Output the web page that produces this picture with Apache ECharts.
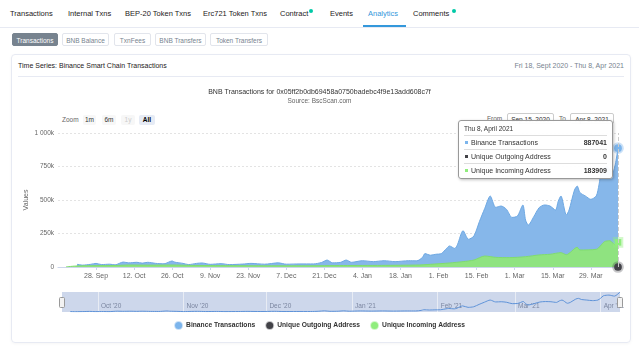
<!DOCTYPE html>
<html><head><meta charset="utf-8">
<script src="https://cdn.jsdelivr.net/npm/echarts@6/dist/echarts.min.js"></script>
<style>
body{margin:0;width:639px;height:350px;background:#fff;position:relative;overflow:hidden;font-family:"Liberation Sans",Arial,Helvetica,sans-serif;color:#1e2022}
.a{position:absolute;white-space:nowrap}
.tab{font-size:7.5px;top:9px;line-height:10px;color:#1e2022}
.btn{top:33px;height:13px;line-height:13px;font-size:6.5px;border:1px solid #e2e5ec;border-radius:2px;color:#77838f;text-align:center;box-sizing:border-box;background:#fff}
.dot{width:4px;height:4px;border-radius:2px;background:#00c9a7}
.zb{top:115px;height:10px;line-height:10px;font-size:6.5px;text-align:center;border-radius:2px;background:#f7f7f7;color:#333}
.inp{top:113px;height:11px;line-height:11px;font-size:6.5px;border:1px solid #ccc;border-radius:2px;color:#333;text-align:center;box-sizing:border-box}
#chart{position:absolute;left:0;top:0;width:639px;height:350px;z-index:5}
</style></head>
<body>
<div class="a tab" style="left:10px">Transactions</div>
<div class="a tab" style="left:68px">Internal Txns</div>
<div class="a tab" style="left:125px">BEP-20 Token Txns</div>
<div class="a tab" style="left:203px">Erc721 Token Txns</div>
<div class="a tab" style="left:280px">Contract</div>
<div class="a dot" style="left:309px;top:9px"></div>
<div class="a tab" style="left:330px">Events</div>
<div class="a tab" style="left:368px;color:#3498db">Analytics</div>
<div class="a tab" style="left:413px">Comments</div>
<div class="a dot" style="left:452px;top:9px"></div>
<div class="a" style="left:0;top:27px;width:639px;height:1px;background:#e7eaf3"></div>
<div class="a" style="left:363px;top:25px;width:43px;height:2px;background:#3498db"></div>

<div class="a btn" style="left:12px;width:46px;background:#77838f;color:#fff;border-color:#77838f">Transactions</div>
<div class="a btn" style="left:62px;width:47px">BNB Balance</div>
<div class="a btn" style="left:114px;width:37px">TxnFees</div>
<div class="a btn" style="left:155px;width:51px">BNB Transfers</div>
<div class="a btn" style="left:210px;width:58px">Token Transfers</div>

<div class="a" style="left:11px;top:54px;width:620px;height:289px;border:1px solid #e7eaf3;border-radius:4px;box-sizing:border-box;box-shadow:0 1px 3px rgba(0,0,0,0.04)"></div>
<div class="a" style="left:18px;top:61px;font-size:7px;line-height:9px;color:#1e2022">Time Series: Binance Smart Chain Transactions</div>
<div class="a" style="right:15px;top:61px;font-size:7px;line-height:9px;color:#77838f">Fri 18, Sept 2020 - Thu 8, Apr 2021</div>
<div class="a" style="left:18px;top:76px;width:606px;height:1px;background:#e7eaf3"></div>

<div class="a" style="left:62px;top:115px;font-size:6.5px;line-height:10px;color:#666">Zoom</div>
<div class="a zb" style="left:83px;width:13px">1m</div>
<div class="a zb" style="left:102px;width:14px">6m</div>
<div class="a zb" style="left:121px;width:14px;color:#ccc">1y</div>
<div class="a zb" style="left:139px;width:16px;background:#e6ebf5;color:#000;font-weight:bold">All</div>
<div class="a" style="left:487px;top:113px;font-size:6.5px;line-height:11px;color:#666">From</div>
<div class="a inp" style="left:507px;width:47px">Sep 15, 2020</div>
<div class="a" style="left:559px;top:113px;font-size:6.5px;line-height:11px;color:#666">To</div>
<div class="a inp" style="left:570px;width:44px">Apr 8, 2021</div>

<div id="chart"></div>
<script>
// ---- data ----
const blueDates = ['2020-09-21','2020-09-23','2020-09-26','2020-09-28','2020-09-30','2020-10-03','2020-10-05','2020-10-08','2020-10-10','2020-10-13','2020-10-15','2020-10-17','2020-10-20','2020-10-23','2020-10-26','2020-10-27','2020-10-30','2020-11-01','2020-11-04','2020-11-06','2020-11-09','2020-11-13','2020-11-16','2020-11-21','2020-11-24','2020-11-29','2020-12-04','2020-12-07','2020-12-12','2020-12-17','2020-12-20','2020-12-22','2020-12-24','2020-12-27','2020-12-29','2020-12-31','2021-01-04','2021-01-08','2021-01-12','2021-01-16','2021-01-21','2021-01-24','2021-01-26','2021-01-27','2021-01-29','2021-01-31','2021-02-02','2021-02-04','2021-02-05','2021-02-07','2021-02-08','2021-02-10','2021-02-12','2021-02-14','2021-02-16','2021-02-18','2021-02-20','2021-02-22','2021-02-24','2021-02-26','2021-02-28','2021-03-02','2021-03-04','2021-03-05','2021-03-06','2021-03-08','2021-03-10','2021-03-12','2021-03-14','2021-03-16','2021-03-17','2021-03-18','2021-03-20','2021-03-21','2021-03-23','2021-03-24','2021-03-25','2021-03-27','2021-03-29','2021-03-31','2021-04-01','2021-04-02','2021-04-04','2021-04-06','2021-04-08'];
const blueValues = [20000,14000,20000,27000,18000,21000,16000,37000,31000,35000,29000,35000,27000,24000,45000,36000,27000,18000,27000,30000,20000,25000,18000,22000,27000,21000,31000,21000,23000,23000,34000,52000,31000,35000,52000,35000,47000,40000,47000,40000,47000,46000,70000,100000,88000,95000,100000,140000,157000,138000,170000,271000,207000,231000,338000,438000,530000,445000,455000,430000,370000,380000,463000,350000,313000,375000,443000,463000,455000,425000,490000,530000,388000,425000,575000,604000,555000,530000,505000,530000,612000,719000,749000,704000,887041];
const greenDates = ['2020-09-17','2020-09-21','2020-09-28','2020-10-05','2020-10-10','2020-10-17','2020-10-26','2020-11-02','2020-11-16','2020-11-30','2020-12-14','2020-12-28','2021-01-11','2021-01-25','2021-01-29','2021-02-05','2021-02-10','2021-02-14','2021-02-18','2021-02-22','2021-02-27','2021-03-05','2021-03-10','2021-03-14','2021-03-18','2021-03-20','2021-03-24','2021-03-25','2021-03-31','2021-04-03','2021-04-05','2021-04-07','2021-04-08'];
const greenValues = [1000,8000,10000,11000,15000,14000,15000,12000,10000,9000,9000,11000,12000,15000,20000,30000,40000,52000,82000,72000,70000,77000,90000,95000,107000,92000,147000,127000,132000,189000,196000,164000,183909];
const outgoingDates = ['2020-09-17','2021-04-08'];
const outgoingValues = [0,0];
const seriesNames = ['Binance Transactions','Unique Outgoing Address','Unique Incoming Address'];
const navMonths = ['2020-10-01','2020-11-01','2020-12-01','2021-01-01','2021-02-01','2021-03-01','2021-04-01'];
const yTicks = [0,250000,500000,750000,1000000];

const MS = ['Jan','Feb','Mar','Apr','May','Jun','Jul','Aug','Sep','Oct','Nov','Dec'];
const MF = ['January','February','March','April','May','June','July','August','September','October','November','December'];
const DW = ['Sun','Mon','Tue','Wed','Thu','Fri','Sat'];
const ts = s => { const p = s.split('-').map(Number); return Date.UTC(p[0], p[1]-1, p[2]); };
const DAY = 86400000;
const pairs = (d, v) => d.map((x, i) => [ts(x), v[i]]);
const lastIdx = arr => arr.length - 1;
const endSize = n => (val, p) => p.dataIndex === n ? 7 : 0;

const chart = echarts.init(document.getElementById('chart'));
chart.setOption({
  animation: false,
  textStyle: {fontFamily: '"Liberation Sans", Arial, Helvetica, sans-serif'},
  title: {
    text: 'BNB Transactions for 0x05ff2b0db69458a0750badebc4f9e13add608c7f',
    subtext: 'Source: BscScan.com',
    left: 'center', top: 89, itemGap: 2, padding: 0,
    textStyle: {fontSize: 7, fontWeight: 'normal', color: '#333'},
    subtextStyle: {fontSize: 6.5, color: '#666'}
  },
  legend: {
    data: seriesNames, top: 316, left: 'center', itemWidth: 7, itemHeight: 7, itemGap: 10, icon: 'circle',
    textStyle: {fontSize: 6.7, fontWeight: 'bold', color: '#333', padding: [0,0,0,-1]}
  },
  grid: [
    {left: 58, right: 21, top: 133, height: 134},
    {left: 62, right: 19, top: 292, height: 20, show: true, backgroundColor: 'rgba(102,133,194,0.33)', borderWidth: 0}
  ],
  xAxis: [
    {type: 'value', gridIndex: 0, min: ts('2020-09-14'), max: ts('2021-04-08'), interval: 14*DAY,
     axisLine: {lineStyle: {color: '#ccd6eb'}}, axisTick: {length: 3, lineStyle: {color: '#ccd6eb'}},
     splitLine: {show: false},
     axisLabel: {fontSize: 7, color: '#666', margin: 6, showMinLabel: false, showMaxLabel: false,
       formatter: v => { const d = new Date(v); return d.getUTCDate() + '. ' + MS[d.getUTCMonth()]; }}},
    {type: 'value', gridIndex: 1, min: ts('2020-09-18'), max: ts('2021-04-08'),
     axisLine: {show: false}, splitLine: {show: false},
     axisTick: {show: true, inside: true, length: 20, customValues: navMonths.map(ts), lineStyle: {color: 'rgba(235,238,245,0.9)'}},
     axisLabel: {inside: true, margin: 2, align: 'left', padding: [0,0,0,3], fontSize: 6.5, color: '#7b86a0',
       customValues: navMonths.map(ts),
       formatter: v => { const d = new Date(v); return MS[d.getUTCMonth()] + " '" + String(d.getUTCFullYear()).slice(2); }}}
  ],
  yAxis: [
    {type: 'value', gridIndex: 0, min: yTicks[0], max: yTicks[yTicks.length-1], interval: yTicks[1]-yTicks[0],
     name: 'Values', nameLocation: 'middle', nameGap: 28, nameMoveOverlap: false, nameTextStyle: {fontSize: 7, color: '#666'},
     axisLine: {show: false}, axisTick: {show: false},
     splitLine: {lineStyle: {color: '#e3e3e3', type: [2,2]}},
     axisLabel: {fontSize: 6.5, color: '#666', margin: 4,
       formatter: v => v === 0 ? '0' : String(v/1000).replace(/\B(?=(\d{3})+(?!\d))/g, ' ') + 'k'}},
    {type: 'value', gridIndex: 1, min: 0, max: 'dataMax', show: false}
  ],
  tooltip: {
    trigger: 'axis', alwaysShowContent: true, showDelay: 0, transitionDuration: 0,
    position: [458, 120], padding: [3,5,1,5],
    backgroundColor: 'rgba(255,255,255,0.96)', borderColor: '#999', borderWidth: 1,
    extraCssText: 'width:143px;border-radius:3px;box-shadow:1px 1px 3px rgba(0,0,0,0.25);',
    axisPointer: {type: 'line', snap: true, lineStyle: {color: '#cccccc', width: 1}, label: {show: false}},
    formatter: params => {
      const d = new Date(params[0].axisValue);
      let h = '<div style="font-size:6.5px;line-height:9px;color:#333;padding-bottom:2px;border-bottom:1px solid #ddd">' +
        DW[d.getUTCDay()] + ' ' + d.getUTCDate() + ', ' + MF[d.getUTCMonth()] + ' ' + d.getUTCFullYear() + '</div>';
      params.forEach((p, i) => {
        h += '<div style="display:flex;justify-content:space-between;font-size:7px;line-height:13px;color:#333;' +
          (i < params.length-1 ? 'border-bottom:1px solid #ddd;' : '') + '">' +
          '<span><span style="display:inline-block;width:3px;height:3px;margin:0 3px 1px 1px;background:' + p.color + '"></span>' +
          p.seriesName + '</span><b>' + p.value[1] + '</b></div>';
      });
      return h;
    }
  },
  series: [
    {name: seriesNames[0], type: 'line', xAxisIndex: 0, yAxisIndex: 0, data: pairs(blueDates, blueValues),
     smooth: 0.25, color: '#7cb5ec', lineStyle: {color: '#6ea8e2', width: 1}, areaStyle: {color: '#86b7ea', opacity: 1},
     showSymbol: true, symbol: 'circle', symbolSize: endSize(lastIdx(blueValues)),
     itemStyle: {color: '#7cb5ec', borderColor: 'rgba(124,181,236,0.4)', borderWidth: 4},
     emphasis: {disabled: true}, z: 2},
    {name: seriesNames[1], type: 'line', xAxisIndex: 0, yAxisIndex: 0, data: pairs(outgoingDates, outgoingValues),
     color: '#434348', lineStyle: {opacity: 0}, showSymbol: true, symbol: 'circle', symbolSize: endSize(lastIdx(outgoingValues)),
     itemStyle: {color: '#434348', borderColor: 'rgba(67,67,72,0.3)', borderWidth: 4},
     emphasis: {disabled: true}, z: 4},
    {name: seriesNames[2], type: 'line', xAxisIndex: 0, yAxisIndex: 0, data: pairs(greenDates, greenValues),
     smooth: 0.25, color: '#90ed7d', lineStyle: {color: '#80dc6d', width: 1}, areaStyle: {color: '#8fe380', opacity: 1},
     showSymbol: true, symbol: 'rect', symbolSize: (v, p) => p.dataIndex === lastIdx(greenValues) ? 6 : 0,
     itemStyle: {color: '#90ed7d', borderColor: 'rgba(144,237,125,0.4)', borderWidth: 4},
     emphasis: {disabled: true}, z: 3},
    {type: 'line', xAxisIndex: 1, yAxisIndex: 1, data: pairs(blueDates, blueValues), smooth: 0.25,
     showSymbol: false, lineStyle: {color: '#5f93d8', width: 1}, silent: true, tooltip: {show: false}}
  ],
  graphic: [
    {type: 'rect', left: 59, top: 297, shape: {width: 5, height: 10, r: 1}, style: {fill: '#f2f2f2', stroke: '#999', lineWidth: 1}, z: 100},
    {type: 'rect', left: 617, top: 297, shape: {width: 5, height: 10, r: 1}, style: {fill: '#f2f2f2', stroke: '#999', lineWidth: 1}, z: 100}
  ]
});
const px = chart.convertToPixel({xAxisIndex: 0}, ts(blueDates[lastIdx(blueDates)]));
chart.dispatchAction({type: 'showTip', x: px - 0.5, y: 200});
</script>
</body></html>
